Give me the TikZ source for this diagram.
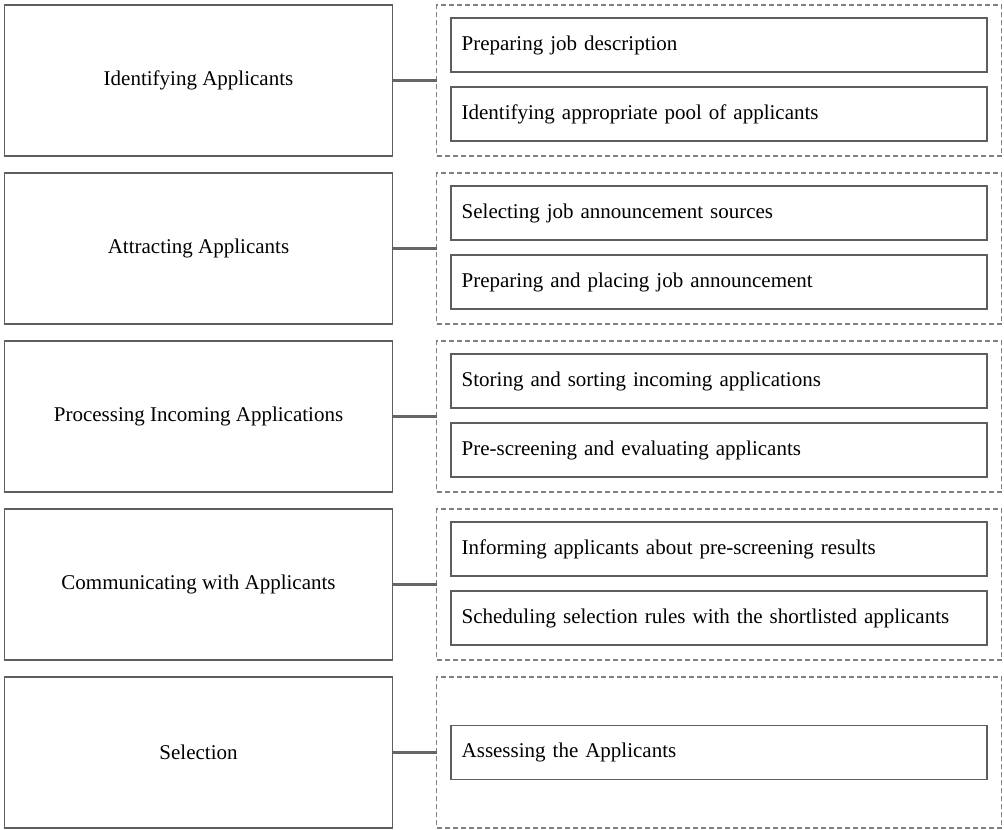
\documentclass[tikz,border=0pt]{standalone}
\usepackage{fontspec}
\setmainfont{Liberation Serif}
\usepackage{xcolor}
\usetikzlibrary{positioning}

\definecolor{boxgray}{HTML}{5E5E5E}
\definecolor{dashgray}{HTML}{808080}
\definecolor{linkgray}{HTML}{666666}

\tikzset{
  stage/.style={draw=boxgray, line width=0.9pt, outer sep=0pt,
    minimum width=291pt, minimum height=113.25pt,
    font=\fontsize{15.75}{19}\selectfont},
  group/.style={draw=dashgray, line width=0.8pt, dash pattern=on 3.75pt off 2.25pt,
    outer sep=0pt, minimum width=423.75pt, minimum height=113.25pt},
  task/.style={draw=boxgray, line width=0.9pt, outer sep=0pt,
    minimum height=40.5pt, inner xsep=8pt, text width=386pt, align=left,
    font=\fontsize{15.75}{19}\selectfont},
  link/.style={draw=linkgray, line width=2.25pt}
}

\begin{document}
\begin{tikzpicture}
\useasboundingbox (-3.375pt,3.75pt) rectangle (749.625pt,-618.75pt);

% Stages
\node[stage, anchor=north west] (identify) at (0,0) {Identifying Applicants};
\node[stage, below=12.75pt of identify] (attract) {Attracting Applicants};
\node[stage, below=12.75pt of attract] (process) {Processing Incoming Applications};
\node[stage, below=12.75pt of process] (comm) {Communicating with Applicants};
\node[stage, below=12.75pt of comm] (select) {Selection};

% Dashed groups
\node[group, right=33pt of identify] (identifyGrp) {};
\node[group, right=33pt of attract] (attractGrp) {};
\node[group, right=33pt of process] (processGrp) {};
\node[group, right=33pt of comm] (commGrp) {};
\node[group, right=33pt of select] (selectGrp) {};

% Tasks
\node[task, below=9.75pt of identifyGrp.north] (identifyA) {Preparing job description};
\node[task, below=11.25pt of identifyA] (identifyB) {Identifying appropriate pool of applicants};

\node[task, below=9.75pt of attractGrp.north] (attractA) {Selecting job announcement sources};
\node[task, below=11.25pt of attractA] (attractB) {Preparing and placing job announcement};

\node[task, below=9.75pt of processGrp.north] (processA) {Storing and sorting incoming applications};
\node[task, below=11.25pt of processA] (processB) {Pre-screening and evaluating applicants};

\node[task, below=9.75pt of commGrp.north] (commA) {Informing applicants about pre-screening results};
\node[task, below=11.25pt of commA] (commB) {Scheduling selection rules with the shortlisted applicants};

\node[task] (selectA) at (selectGrp.center) {Assessing the Applicants};

% Links
\draw[link] (identify.east) -- (identifyGrp.west);
\draw[link] (attract.east) -- (attractGrp.west);
\draw[link] (process.east) -- (processGrp.west);
\draw[link] (comm.east) -- (commGrp.west);
\draw[link] (select.east) -- (selectGrp.west);
\end{tikzpicture}
\end{document}
